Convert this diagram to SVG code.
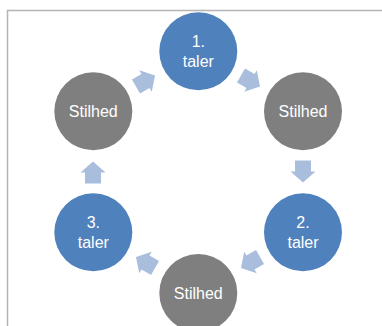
<svg xmlns="http://www.w3.org/2000/svg" width="382" height="326" viewBox="0 0 382 326">
<defs>
<style>
.blue{fill:#4F81BD}
.gray{fill:#7F7F7F}
.arr{fill:#A9BEDD}
text{fill:#FFFFFF;font-family:"Liberation Sans",Arial,sans-serif;font-size:16px;text-anchor:middle}
</style>
<path id="blk" d="M-11,-8 H0 V-12.5 L11,0 L0,12.5 V8 H-11 Z"/>
</defs>
<rect x="0" y="0" width="382" height="326" fill="#FFFFFF"/>
<path d="M7.5,330 V10.5 H386" fill="none" stroke="#B4B4B4" stroke-width="1.5"/>
<g id="connectors">
<use href="#blk" class="arr" transform="translate(250.5,81) rotate(30)"/>
<use href="#blk" class="arr" transform="translate(303,171.5) rotate(90)"/>
<use href="#blk" class="arr" transform="translate(250.5,262.5) rotate(150)"/>
<use href="#blk" class="arr" transform="translate(145.5,262.5) rotate(210)"/>
<use href="#blk" class="arr" transform="translate(93,172.5) rotate(270)"/>
<use href="#blk" class="arr" transform="translate(145.5,81) rotate(330)"/>
</g>
<g id="n1">
<circle class="blue" cx="198.3" cy="51.3" r="39"/>
<text x="198.3" y="46.5">1.</text>
<text x="198.3" y="66.5">taler</text>
</g>
<g id="s1">
<circle class="gray" cx="303" cy="111.3" r="39"/>
<text x="303" y="117">Stilhed</text>
</g>
<g id="n2">
<circle class="blue" cx="303" cy="232.3" r="39"/>
<text x="303" y="227.5">2.</text>
<text x="303" y="247.5">taler</text>
</g>
<g id="s2">
<circle class="gray" cx="198.3" cy="293" r="39"/>
<text x="198.3" y="298.7">Stilhed</text>
</g>
<g id="n3">
<circle class="blue" cx="93.3" cy="232.3" r="39"/>
<text x="93.3" y="227.5">3.</text>
<text x="93.3" y="247.5">taler</text>
</g>
<g id="s3">
<circle class="gray" cx="93.3" cy="111.3" r="39"/>
<text x="93.3" y="117">Stilhed</text>
</g>
</svg>
